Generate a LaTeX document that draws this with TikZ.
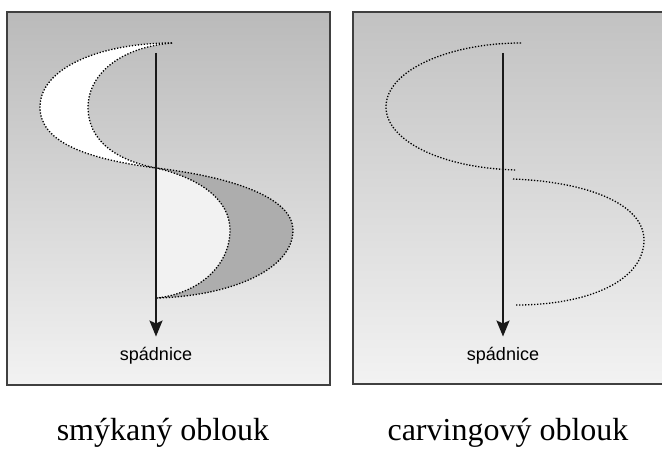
\documentclass[tikz,border=0pt]{standalone}
\usepackage{fontspec}
\setmainfont{Liberation Serif}
\setsansfont{Liberation Sans}
\usetikzlibrary{arrows.meta}

\begin{document}
\begin{tikzpicture}[x=1pt, y=-1pt,
    panel/.style={draw=black!75, line width=1.1pt},
    track/.style={draw=black, line width=1.3pt, dash pattern=on 1.3pt off 1.7pt},
    fall/.style={-{Stealth[length=16pt, width=13pt, inset=3pt]}, line width=2.1pt, draw=black!90},
    tag/.style={font=\sffamily\fontsize{18}{20}\selectfont, anchor=base, inner sep=0pt},
    caption/.style={font=\fontsize{32}{36}\selectfont, anchor=base, inner sep=0pt}]

\useasboundingbox (0,0) rectangle (662,452);
\fill[white] (0,0) rectangle (662,452);

% gray paper of both panels
\shade[top color=black!27, middle color=black!15, bottom color=black!5] (7,12) rectangle (330,385);
\shade[top color=black!24, middle color=black!14, bottom color=black!5] (353,12) rectangle (664,384);

% left panel: skidded turn
\coordinate (a1) at (172,43);
\coordinate (c1) at (156,168);
\coordinate (e1) at (157,298);

\fill[white] (a1) .. controls (100,43) and (40,68) .. (40,107) .. controls (40,140) and (80,158) .. (c1)
    .. controls (115,160) and (88,140) .. (88,107) .. controls (88,78) and (115,48) .. (a1);
\fill[black!5] (c1) .. controls (200,178) and (230,200) .. (230,230) .. controls (230,265) and (200,293) .. (e1) -- cycle;
\fill[black!32] (c1) .. controls (240,178) and (293,200) .. (293,230) .. controls (293,270) and (230,296) .. (e1)
    .. controls (200,293) and (230,265) .. (230,230) .. controls (230,200) and (200,178) .. (c1);

\draw[track] (a1) .. controls (100,43) and (40,68) .. (40,107) .. controls (40,140) and (80,158) .. (c1)
    .. controls (240,178) and (293,200) .. (293,230) .. controls (293,270) and (230,296) .. (e1);
\draw[track] (a1) .. controls (115,48) and (88,78) .. (88,107) .. controls (88,140) and (115,160) .. (c1)
    .. controls (200,178) and (230,200) .. (230,230) .. controls (230,265) and (200,293) .. (e1);

\coordinate (top1) at (156,53);
\node[tag] (fall1) at (156,360) {spádnice};
\draw[fall, shorten >=10pt] (top1) -- (fall1.north);

% right panel: carved turn
\coordinate (p1) at (521,43);
\coordinate (p2) at (516,170);
\coordinate (q1) at (513,179);
\coordinate (q2) at (516,305);

\draw[track] (p1) .. controls (450,43) and (386,70) .. (386,107) .. controls (386,140) and (440,168) .. (p2);
\draw[track] (q1) .. controls (590,182) and (644,205) .. (644,240) .. controls (644,280) and (590,305) .. (q2);

\coordinate (top2) at (503,53);
\node[tag] (fall2) at (503,360) {spádnice};
\draw[fall, shorten >=10pt] (top2) -- (fall2.north);

% frames
\draw[panel] (7,12) rectangle (330,385);
\draw[panel] (664,12) -- (353,12) -- (353,384) -- (664,384);

% captions
\node[caption] (cap1) at (163,440) {smýkaný oblouk};
\node[caption] (cap2) at (508,440) {carvingový oblouk};

\end{tikzpicture}
\end{document}
